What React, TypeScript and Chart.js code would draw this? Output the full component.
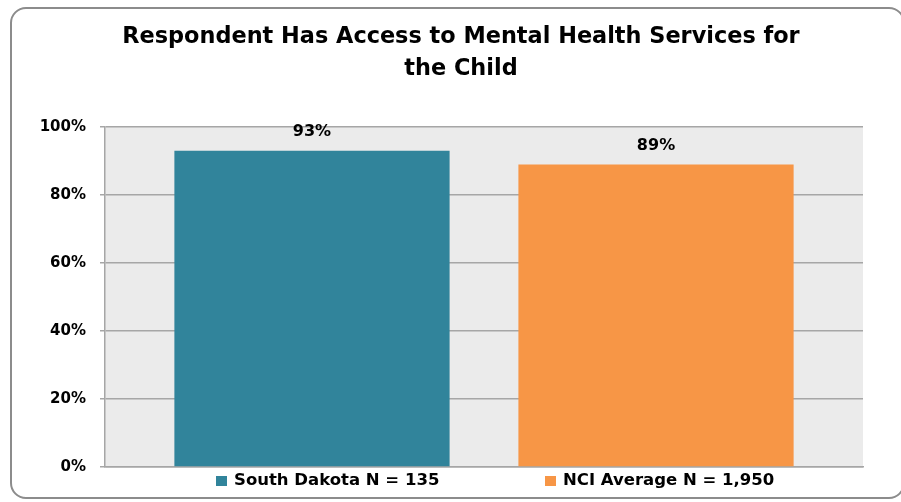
import React, { useEffect, useRef } from "react";
import { Chart, registerables } from "chart.js";

Chart.register(...registerables);

const titleLines = ["Respondent Has Access to Mental Health Services for", "the Child"];
const categories = [""];
const seriesNames = ["South Dakota N = 135", "NCI Average N = 1,950"];
const seriesValues = [93, 89];
const seriesColors = ["#31849b", "#f79646"];
const yTickValues = [0, 20, 40, 60, 80, 100];

const FONT = "'DejaVu Sans', sans-serif";

export default function App() {
  const ref = useRef<HTMLCanvasElement | null>(null);

  useEffect(() => {
    const canvas = ref.current;
    if (!canvas) return;

    const plotBg = {
      id: "plotBg",
      beforeDraw(chart: any) {
        const { ctx, chartArea } = chart;
        ctx.save();
        ctx.fillStyle = "#ebebeb";
        ctx.fillRect(chartArea.left, chartArea.top, chartArea.right - chartArea.left, chartArea.bottom - chartArea.top);
        ctx.restore();
      },
    };

    const titlePlugin = {
      id: "customTitle",
      afterDraw(chart: any) {
        const { ctx, chartArea } = chart;
        ctx.save();
        ctx.font = `bold 22.4px ${FONT}`;
        ctx.fillStyle = "#000";
        ctx.textAlign = "center";
        ctx.textBaseline = "middle";
        const cx = (chartArea.left + chartArea.right) / 2 - 23;
        titleLines.forEach((line, i) => {
          ctx.fillText(line, cx, 37 + i * 32);
        });
        ctx.restore();
      },
    };

    const valueLabels = {
      id: "valueLabels",
      afterDatasetsDraw(chart: any) {
        const { ctx } = chart;
        ctx.save();
        ctx.font = `bold 16px ${FONT}`;
        ctx.fillStyle = "#000";
        ctx.textAlign = "center";
        ctx.textBaseline = "middle";
        chart.data.datasets.forEach((ds: any, i: number) => {
          const meta = chart.getDatasetMeta(i);
          meta.data.forEach((bar: any, j: number) => {
            ctx.fillText(`${ds.data[j]}%`, bar.x, bar.y - 19);
          });
        });
        ctx.restore();
      },
    };

    const bottomLegend = {
      id: "bottomLegend",
      afterDraw(chart: any) {
        const { ctx, chartArea } = chart;
        ctx.save();
        ctx.font = `bold 16.5px ${FONT}`;
        ctx.textBaseline = "middle";
        ctx.textAlign = "left";
        const y = chartArea.bottom + 14;
        const slot = 329;
        let x = chartArea.left + 111;
        chart.data.datasets.forEach((ds: any) => {
          ctx.fillStyle = ds.backgroundColor;
          ctx.fillRect(x, y - 5, 11, 10);
          ctx.fillStyle = "#000";
          ctx.fillText(ds.label, x + 18, y);
          x += slot;
        });
        ctx.restore();
      },
    };

    const chart = new Chart(canvas, {
      type: "bar",
      data: {
        labels: categories,
        datasets: seriesNames.map((name, i) => ({
          label: name,
          data: [seriesValues[i]],
          backgroundColor: seriesColors[i],
          borderWidth: 0,
          categoryPercentage: 0.9077,
          barPercentage: 0.8,
        })),
      },
      options: {
        responsive: false,
        animation: false,
        layout: { padding: { left: 0, right: 38, top: 127, bottom: 35 } },
        plugins: {
          legend: { display: false },
          tooltip: { enabled: false },
          title: { display: false },
        },
        scales: {
          x: {
            ticks: { display: false },
            grid: { display: false, drawTicks: false },
            border: { display: true, color: "#a6a6a6", width: 1.5 },
          },
          y: {
            min: 0,
            max: 100,
            afterBuildTicks: (axis: any) => {
              axis.ticks = yTickValues.map((v) => ({ value: v }));
            },
            afterFit: (axis: any) => {
              axis.width = 105;
            },
            ticks: {
              callback: (v: any) => `${v}%`,
              color: "#000",
              font: { family: FONT, size: 15, weight: "bold" },
              padding: 14,
            },
            grid: { color: "#a6a6a6", lineWidth: 1.5, tickLength: 5, tickColor: "#a6a6a6" },
            border: { display: true, color: "#a6a6a6", width: 1.5 },
          },
        },
      },
      plugins: [plotBg, valueLabels, titlePlugin, bottomLegend],
    });

    return () => chart.destroy();
  }, []);

  return (
    <div
      style={{
        position: "fixed",
        left: 0,
        top: 0,
        width: 901,
        height: 502,
        overflow: "hidden",
        background: "#fff",
      }}
    >
      <div
        style={{
          position: "absolute",
          left: 10,
          top: 7,
          width: 895,
          height: 492,
          boxSizing: "border-box",
          border: "2px solid #8c8c8c",
          borderRadius: 16,
        }}
      />
      <canvas ref={ref} width={901} height={502} style={{ position: "absolute", left: 0, top: 0 }} />
    </div>
  );
}
